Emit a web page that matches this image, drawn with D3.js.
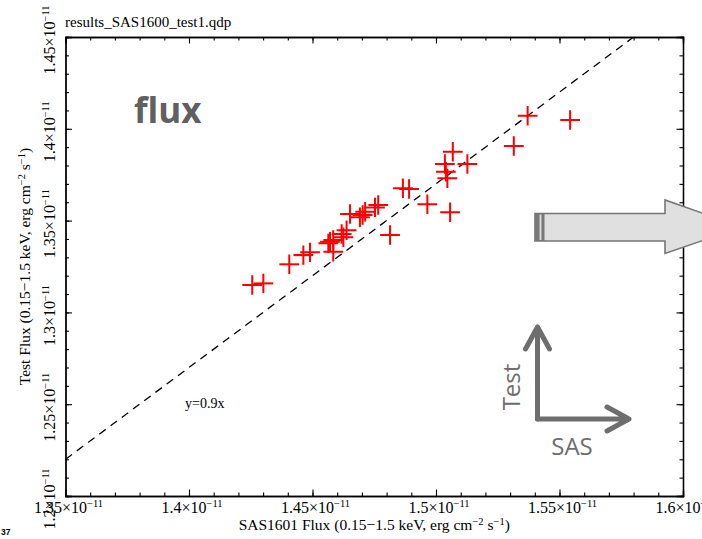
<!DOCTYPE html>
<html>
<head>
<meta charset="utf-8">
<script src="https://cdn.jsdelivr.net/npm/d3@7"></script>
<style>
  html, body { margin: 0; padding: 0; background: #fff; }
  svg { display: block; }
  .serif { font-family: "Liberation Serif", "Times New Roman", serif; fill: #000; }
  .sans { font-family: "Open Sans", "Noto Sans", sans-serif; }
</style>
</head>
<body>
<svg id="chart" width="702" height="539"></svg>
<script>
// SAS1601 flux vs. test flux (units of 1e-11 erg cm^-2 s^-1)
const sasFlux  = [1.4256, 1.4301, 1.4406, 1.4463, 1.4490, 1.4564, 1.4571, 1.4584, 1.4584, 1.4618,
                  1.4625, 1.4638, 1.4652, 1.4692, 1.4703, 1.4713, 1.4753, 1.4766, 1.4814, 1.4866,
                  1.4891, 1.4965, 1.5036, 1.5040, 1.5046, 1.5068, 1.5057, 1.5127, 1.5315, 1.5371,
                  1.5543];
const testFlux = [1.3149, 1.3158, 1.3262, 1.3312, 1.3327, 1.3376, 1.3385, 1.3394, 1.3330, 1.3427,
                  1.3409, 1.3448, 1.3536, 1.3518, 1.3530, 1.3548, 1.3572, 1.3585, 1.3421, 1.3676,
                  1.3672, 1.3589, 1.3808, 1.3766, 1.3730, 1.3875, 1.3545, 1.3808, 1.3906, 1.4071,
                  1.4048];
const sasErr   = [0.0040, 0.0040, 0.0040, 0.0040, 0.0040, 0.0040, 0.0040, 0.0040, 0.0040, 0.0040,
                  0.0040, 0.0040, 0.0040, 0.0040, 0.0040, 0.0040, 0.0040, 0.0040, 0.0040, 0.0040,
                  0.0040, 0.0040, 0.0040, 0.0040, 0.0040, 0.0040, 0.0040, 0.0040, 0.0040, 0.0040,
                  0.0040];
const testErr  = [0.0053, 0.0053, 0.0053, 0.0053, 0.0053, 0.0053, 0.0053, 0.0053, 0.0053, 0.0053,
                  0.0053, 0.0053, 0.0053, 0.0053, 0.0053, 0.0053, 0.0053, 0.0053, 0.0053, 0.0053,
                  0.0053, 0.0053, 0.0053, 0.0053, 0.0053, 0.0053, 0.0053, 0.0053, 0.0053, 0.0053,
                  0.0053];

// reference line end points
const refLineX = [1.30, 1.60];
const refLineY = [1.17, 1.47];

// axis ticks
const xMajorTicks = [1.35, 1.40, 1.45, 1.50, 1.55, 1.60];
const xTickLabels = ["1.35", "1.4", "1.45", "1.5", "1.55", "1.6"];
const yMajorTicks = [1.20, 1.25, 1.30, 1.35, 1.40, 1.45];
const yTickLabels = ["1.2", "1.25", "1.3", "1.35", "1.4", "1.45"];
const xMinorTicks = d3.range(0, 26).map(i => +(1.35 + i * 0.01).toFixed(2));
const yMinorTicks = d3.range(0, 26).map(i => +(1.20 + i * 0.01).toFixed(2));

const svg = d3.select("#chart");
const frame = { left: 65.5, right: 683, top: 37, bottom: 496 };

const x = d3.scaleLinear().domain([1.35, 1.60]).range([frame.left, frame.right]);
const y = d3.scaleLinear().domain([1.20, 1.45]).range([frame.bottom, frame.top]);

svg.append("defs").append("clipPath").attr("id", "plotClip")
  .append("rect").attr("x", frame.left).attr("y", frame.top)
  .attr("width", frame.right - frame.left).attr("height", frame.bottom - frame.top);

// frame and inward ticks on all four sides
function drawAxis(axisFn, transform, ticks, size) {
  const g = svg.append("g").attr("transform", transform)
    .call(axisFn.tickValues(ticks).tickSize(size).tickFormat(""));
  g.selectAll("path.domain").attr("stroke", "#000").attr("stroke-width", 1.3);
  g.selectAll(".tick line").attr("stroke", "#000").attr("stroke-width", 1.1);
  return g;
}
drawAxis(d3.axisBottom(x), `translate(0,${frame.bottom})`, xMinorTicks, -3.5);
drawAxis(d3.axisBottom(x), `translate(0,${frame.bottom})`, xMajorTicks, -6.5);
drawAxis(d3.axisTop(x), `translate(0,${frame.top})`, xMinorTicks, -3.5);
drawAxis(d3.axisTop(x), `translate(0,${frame.top})`, xMajorTicks, -6.5);
drawAxis(d3.axisLeft(y), `translate(${frame.left},0)`, yMinorTicks, -3.5);
drawAxis(d3.axisLeft(y), `translate(${frame.left},0)`, yMajorTicks, -6.5);
drawAxis(d3.axisRight(y), `translate(${frame.right},0)`, yMinorTicks, -3.5);
drawAxis(d3.axisRight(y), `translate(${frame.right},0)`, yMajorTicks, -6.5);

// scientific-notation tick label: mantissa ×10^-11
function sciLabel(sel, mantissa) {
  sel.text(mantissa + "\u00d710");
  sel.append("tspan").attr("dy", -6).attr("font-size", 10.5).text("\u221211");
}

svg.append("g").selectAll("text")
  .data(xMajorTicks)
  .join("text")
  .attr("class", "serif")
  .attr("font-size", 16)
  .attr("text-anchor", "middle")
  .attr("x", d => x(d) + 3)
  .attr("y", 513)
  .each(function(d, i) { sciLabel(d3.select(this), xTickLabels[i]); });

svg.append("g").selectAll("text")
  .data(yMajorTicks)
  .join("text")
  .attr("class", "serif")
  .attr("font-size", 16)
  .attr("text-anchor", "middle")
  .attr("transform", d => `translate(55,${y(d) + 3}) rotate(-90)`)
  .each(function(d, i) { sciLabel(d3.select(this), yTickLabels[i]); });

// axis titles
function unitTitle(sel, lead) {
  sel.append("tspan").text(lead + " (0.15\u22121.5 keV, erg cm");
  sel.append("tspan").attr("dy", -5).attr("font-size", 10.5).text("\u22122");
  sel.append("tspan").attr("dy", 5).text(" s");
  sel.append("tspan").attr("dy", -5).attr("font-size", 10.5).text("\u22121");
  sel.append("tspan").attr("dy", 5).text(")");
}
unitTitle(svg.append("text").attr("class", "serif").attr("font-size", 15.5)
  .attr("text-anchor", "middle").attr("x", (frame.left + frame.right) / 2).attr("y", 530),
  "SAS1601 Flux");
unitTitle(svg.append("text").attr("class", "serif").attr("font-size", 15.5)
  .attr("text-anchor", "middle")
  .attr("transform", `translate(30,${(frame.top + frame.bottom) / 2}) rotate(-90)`),
  "Test Flux");

// file name above the frame
svg.append("text").attr("class", "serif").attr("font-size", 15)
  .attr("x", 65).attr("y", 27).text("results_SAS1600_test1.qdp");

// page number
svg.append("text").attr("font-family", "Liberation Sans, Arial, sans-serif")
  .attr("font-weight", "bold").attr("font-size", 8.5).attr("x", 1).attr("y", 535).text("37");

const plot = svg.append("g").attr("clip-path", "url(#plotClip)");

// dashed reference line
plot.append("line")
  .attr("x1", x(refLineX[0])).attr("y1", y(refLineY[0]))
  .attr("x2", x(refLineX[1])).attr("y2", y(refLineY[1]))
  .attr("stroke", "#000").attr("stroke-width", 1.3)
  .attr("stroke-dasharray", "8,6");

// error-bar crosses
const pts = sasFlux.map((v, i) => ({ sx: v, ty: testFlux[i], ex: sasErr[i], ey: testErr[i] }));
const cross = plot.append("g").attr("stroke", "#ff0000").attr("stroke-width", 2)
  .selectAll("g").data(pts).join("g");
cross.append("line")
  .attr("x1", d => x(d.sx - d.ex)).attr("x2", d => x(d.sx + d.ex))
  .attr("y1", d => y(d.ty)).attr("y2", d => y(d.ty));
cross.append("line")
  .attr("x1", d => x(d.sx)).attr("x2", d => x(d.sx))
  .attr("y1", d => y(d.ty - d.ey)).attr("y2", d => y(d.ty + d.ey));

// annotation for the reference line
svg.append("text").attr("class", "serif").attr("font-size", 14)
  .attr("x", 185).attr("y", 408).text("y=0.9x");

// "flux" heading
svg.append("text").attr("class", "sans").attr("font-weight", "bold")
  .attr("font-size", 35).attr("fill", "#606060")
  .attr("x", 134).attr("y", 123).text("flux");

// block arrow pointing to the right edge
svg.append("path")
  .attr("d", "M535,213.5 L665,213.5 L665,200 L742,227 L665,253.5 L665,241 L535,241 Z")
  .attr("fill", "#e0e0e0").attr("stroke", "#767676").attr("stroke-width", 1.6);
svg.append("rect").attr("x", 535).attr("y", 213.5).attr("width", 9.5).attr("height", 27.5)
  .attr("fill", "#787878");
svg.append("rect").attr("x", 539.5).attr("y", 214.5).attr("width", 2).attr("height", 25.5)
  .attr("fill", "#d8d8d8");

// orientation key: Test (up) vs SAS (right)
const keyCol = "#6e6e6e";
const key = svg.append("g").attr("stroke", keyCol).attr("stroke-width", 5)
  .attr("fill", "none").attr("stroke-linecap", "round").attr("stroke-linejoin", "round");
key.append("path").attr("d", "M537.5,419 L537.5,327 M525.5,349 L537.5,327 L549.5,349");
key.append("path").attr("d", "M537.5,419 L629,419 M607,407 L629,419 L607,431");
svg.append("text").attr("class", "sans").attr("font-size", 24).attr("fill", keyCol)
  .attr("text-anchor", "middle")
  .attr("transform", "translate(520,387) rotate(-90)").text("Test");
svg.append("text").attr("class", "sans").attr("font-size", 24).attr("fill", keyCol)
  .attr("text-anchor", "middle").attr("x", 572).attr("y", 455).text("SAS");
</script>
</body>
</html>
